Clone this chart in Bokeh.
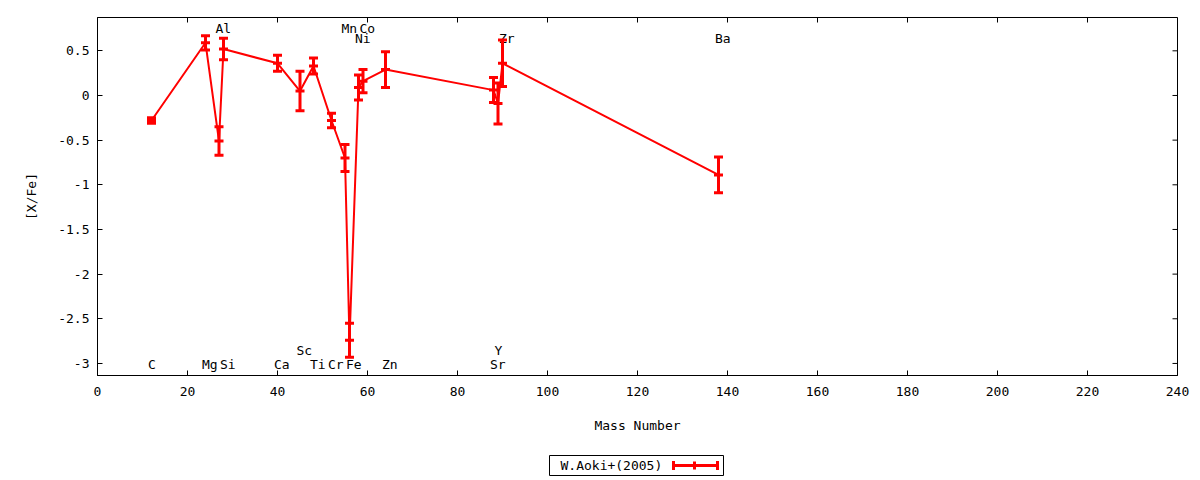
import math
from bokeh.plotting import figure
from bokeh.layouts import column
from bokeh.models import (Whisker, TeeHead, ColumnDataSource, Range1d,
                          FixedTicker, Label, BoxAnnotation)
from bokeh.core.properties import value
from bokeh.embed import file_html
from bokeh.resources import INLINE

# ---------------- data ----------------
elements = ["C", "Mg", "Al", "Si", "Ca", "Sc", "Ti", "Cr", "Mn", "Fe",
            "Ni", "Co", "Zn", "Sr", "Y", "Zr", "Ba"]
mass = [12, 24, 27, 28, 40, 45, 48, 52, 55, 56, 58, 59, 64, 88, 89, 90, 138]
xfe = [-0.28, 0.59, -0.51, 0.52, 0.36, 0.05, 0.33, -0.28, -0.70, -2.74,
       0.09, 0.16, 0.29, 0.06, -0.09, 0.36, -0.89]
err = [0.03, 0.08, 0.16, 0.12, 0.09, 0.22, 0.09, 0.08, 0.15, 0.19,
       0.14, 0.13, 0.20, 0.14, 0.23, 0.26, 0.20]
label_y = [-3.01, -3.01, 0.75, -3.01, -3.01, -2.855, -3.01, -3.01, 0.75, -3.01,
           0.64, 0.75, -3.01, -3.01, -2.855, 0.64, 0.64]
x_ticks = [0, 20, 40, 60, 80, 100, 120, 140, 160, 180, 200, 220, 240]
y_ticks = [0.5, 0, -0.5, -1, -1.5, -2, -2.5, -3]
y_tick_labels = ["0.5", "0", "-0.5", "-1", "-1.5", "-2", "-2.5", "-3"]
series_name = "W.Aoki+(2005)"
x_title = "Mass Number"
y_title = "[X/Fe]"

FONT = "DejaVu Sans Mono"
RED = "#ff0000"
FS = "13px"
X_MIN, X_MAX = 0, 240
Y_MIN, Y_MAX = -3.135, 0.873

p = figure(width=1192, height=450, output_backend="svg", toolbar_location=None,
           x_range=Range1d(X_MIN, X_MAX), y_range=Range1d(Y_MIN, Y_MAX),
           min_border_left=97, min_border_right=15, min_border_top=17,
           min_border_bottom=75)
p.xaxis.axis_label = x_title
p.yaxis.axis_label = y_title
p.grid.visible = False
p.outline_line_color = "black"
p.outline_line_alpha = 1
p.outline_line_width = 1
p.background_fill_color = "white"
p.border_fill_color = "white"

src = ColumnDataSource(dict(
    mass=mass, xfe=xfe,
    lo=[v - e for v, e in zip(xfe, err)],
    hi=[v + e for v, e in zip(xfe, err)],
))

# connecting line
p.line("mass", "xfe", source=src, line_color=RED, line_width=2)

# error bars
wh = Whisker(base="mass", lower="lo", upper="hi", source=src, dimension="height",
             line_color=RED, line_width=3, level="glyph",
             upper_head=TeeHead(size=9, line_color=RED, line_width=3),
             lower_head=TeeHead(size=9, line_color=RED, line_width=3))
p.add_layout(wh)

# point markers
p.scatter("mass", "xfe", source=src, marker="dash", size=9,
          line_color=RED, line_width=3)

# element labels
lsrc = ColumnDataSource(dict(x=mass, y=label_y, t=elements))
p.text("x", "y", text="t", source=lsrc, x_offset=-3.5, text_align="left",
       text_baseline="middle", text_font=value(FONT), text_font_size=FS,
       text_color="black")

# axes
for ax in (p.xaxis[0], p.yaxis[0]):
    ax.major_tick_in = 5
    ax.major_tick_out = 0
    ax.minor_tick_in = 0
    ax.minor_tick_out = 0
    ax.axis_line_color = "black"
    ax.major_tick_line_color = "black"
    ax.major_label_text_font = FONT
    ax.major_label_text_font_size = FS
    ax.major_label_text_color = "black"
    ax.axis_label_text_font = FONT
    ax.axis_label_text_font_size = FS
    ax.axis_label_text_font_style = "normal"
    ax.axis_label_text_color = "black"

p.xaxis[0].ticker = FixedTicker(ticks=x_ticks)
p.yaxis[0].ticker = FixedTicker(ticks=y_ticks)
p.yaxis[0].major_label_overrides = {t: l for t, l in zip(y_ticks, y_tick_labels)}
p.xaxis[0].major_label_standoff = 11
p.xaxis[0].axis_label_standoff = 19
p.yaxis[0].major_label_standoff = 8
p.yaxis[0].axis_label_standoff = 16

# mirrored inward ticks on top and right (markers centred on the frame edge,
# the outer half is clipped by the frame)
p.scatter(x=x_ticks, y=[Y_MAX] * len(x_ticks), marker="dash", angle=math.pi / 2,
          size=10, line_color="black", line_width=1)
p.scatter(x=[X_MAX] * len(y_ticks), y=y_ticks, marker="dash",
          size=10, line_color="black", line_width=1)

# ---------------- legend strip (separate small figure below) ----------------
# its frame is aligned with the main frame by the column layout,
# so screen x positions are relative to the main plot's left frame edge
leg = figure(width=1192, height=30, output_backend="svg", toolbar_location=None,
             x_axis_location=None, y_axis_location=None,
             min_border_left=0, min_border_right=0, min_border_top=0,
             min_border_bottom=0, x_range=Range1d(0, 1), y_range=Range1d(0, 1))
leg.grid.visible = False
leg.outline_line_color = None
leg.background_fill_color = "white"
leg.border_fill_color = "white"

leg.add_layout(BoxAnnotation(left=452, right=626, top=25, bottom=5,
                             left_units="screen", right_units="screen",
                             bottom_units="screen", top_units="screen",
                             fill_alpha=0, line_color="black", line_width=1,
                             line_alpha=1))
leg.add_layout(Label(x=463, y=15, x_units="screen", y_units="screen",
                     text=series_name, text_font=FONT, text_font_size=FS,
                     text_baseline="middle", text_align="left",
                     text_color="black"))
leg_src = ColumnDataSource(dict(b=[15], lo=[576], hi=[620]))
leg.add_layout(Whisker(base="b", lower="lo", upper="hi", source=leg_src,
                       dimension="width", base_units="screen",
                       lower_units="screen", upper_units="screen",
                       line_color=RED, line_width=3, level="overlay",
                       upper_head=TeeHead(size=9, line_color=RED, line_width=3),
                       lower_head=TeeHead(size=9, line_color=RED, line_width=3)))
tick_src = ColumnDataSource(dict(b=[597], lo=[11], hi=[19]))
leg.add_layout(Whisker(base="b", lower="lo", upper="hi", source=tick_src,
                       dimension="height", base_units="screen",
                       lower_units="screen", upper_units="screen",
                       line_color=RED, line_width=3, level="overlay",
                       upper_head=None, lower_head=None))

layout = column(p, leg, spacing=0)
open("out.html", "w").write(file_html(layout, INLINE))
